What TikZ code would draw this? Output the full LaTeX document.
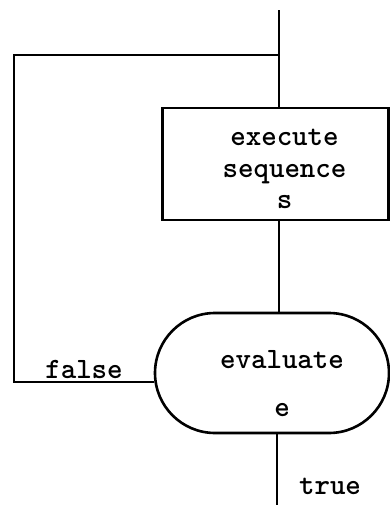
\documentclass[tikz,border=0pt]{standalone}
\usetikzlibrary{shapes.misc}

\begin{document}
\begin{tikzpicture}[x=1pt,y=-1pt,line width=2.6pt,
  every node/.style={font=\ttfamily\bfseries\fontsize{29.5}{32}\selectfont}]
\useasboundingbox (0,0) rectangle (390,517);
  \node[draw, minimum width=226pt, minimum height=112pt, align=center,
        text depth=0pt, inner sep=0pt] (exec) at (275.5,164)
        {\hspace*{18pt}\rule{0pt}{26pt}execute\\\hspace*{18pt}sequence\\[-1pt]\hspace*{18pt}s};
  \node[draw, rounded rectangle, minimum width=234pt, minimum height=120pt,
        align=center, inner sep=0pt] (eval) at (272,373)
        {\hspace*{20pt}\rule{0pt}{40pt}evaluate\\[16pt]\hspace*{20pt}e};
  \coordinate (top) at (279,10);
  \coordinate (join) at (279,55);
  \coordinate (ul) at (14,55);
  \coordinate (ll) at (14,382);
  \coordinate (exit) at (277,505);
  \node (false) at (84,369) {false};
  \node (true) at (330,486) {true};
  \path [-] (top) edge node {} (exec.north -| top);
  \path [-] (exec.south -| top) edge node {} (eval.north -| top);
  \path [-] (eval.south -| exit) edge node {} (exit);
  \draw (join) -- (ul) -- (ll) -- (ll -| eval.west);
\end{tikzpicture}
\end{document}
